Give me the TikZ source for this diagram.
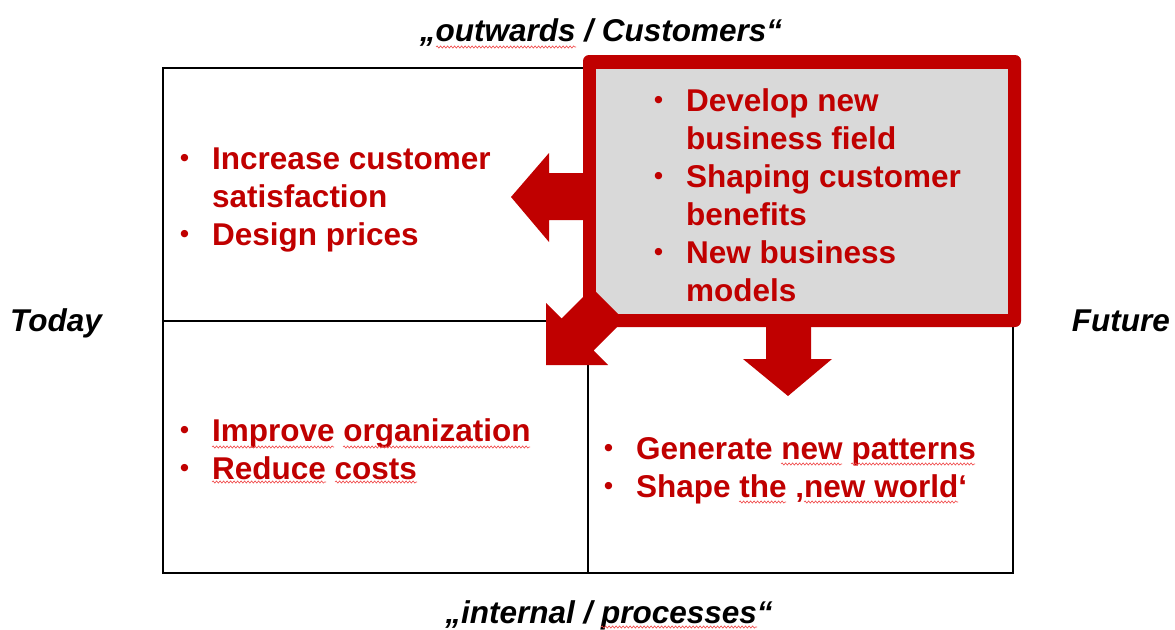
\documentclass[tikz,border=0pt]{standalone}
\usepackage{fontspec}
\setmainfont{Liberation Sans}
\usetikzlibrary{decorations.pathmorphing}
\definecolor{dred}{HTML}{C00000}
\definecolor{boxgray}{HTML}{D9D9D9}
\definecolor{wavy}{HTML}{F04848}
\newcommand\bul{\makebox[32pt][l]{\raisebox{2.5pt}{\fontsize{25.5}{25.5}\selectfont\textbullet}}}
\newcommand\ind{\hspace*{32pt}}
\begin{document}
\begin{tikzpicture}[x=1pt,y=-1pt,
  listtext/.style={anchor=base west, inner sep=0pt, text=dred, font=\fontsize{31.5}{38}\selectfont\bfseries},
  axislabel/.style={inner sep=0pt, font=\fontsize{31.5}{38}\selectfont\bfseries\itshape},
  gridline/.style={line width=1.5pt, draw=black},
  blockarrow/.style={fill=dred, draw=none},
  spell/.style={draw=wavy, line width=0.6pt, decorate, decoration={snake, amplitude=1.1pt, segment length=3.5pt}}]
\useasboundingbox (0,0) rectangle (1175,629);

% grid
\draw[gridline] (163,68) rectangle (1013,573);
\draw[gridline] (163,321) -- (1013,321);
\draw[gridline] (588,68) -- (588,573);

% highlighted box
\fill[dred, rounded corners=6pt] (583,55) rectangle (1021,327);
\fill[boxgray] (596,69) rectangle (1008,314);

% block arrows
\fill[blockarrow] (590,173) -- (549,173) -- (549,153) -- (511,197) -- (549,242) -- (549,220) -- (590,220) -- cycle;
\fill[blockarrow] (766,320) -- (766,359) -- (743,359) -- (788,396) -- (832,359) -- (811,359) -- (811,320) -- cycle;
\fill[blockarrow] (546,365) -- (546,303) -- (561.5,318.5) -- (592,288) -- (624,320) -- (593.5,350.5) -- (608,365) -- cycle;

% axis labels
\node[axislabel, anchor=base] (top) at (601,41) {„outwards / Customers“};
\node[axislabel, anchor=base] (bottom) at (609,623) {„internal / processes“};
\node[axislabel, anchor=base west] (today) at (10,331) {Today};
\node[axislabel, anchor=base east] (future) at (1170,331) {Future};

% lists
\node[listtext] (tl) at (180,169) {\begin{tabular}[t]{@{}l@{}}\bul Increase customer\\ \ind satisfaction\\ \bul Design prices\end{tabular}};
\node[listtext] (tr) at (654,111) {\begin{tabular}[t]{@{}l@{}}\bul Develop new\\ \ind business field\\ \bul Shaping customer\\ \ind benefits\\ \bul New business\\ \ind models\end{tabular}};
\node[listtext] (bl) at (180,441) {\begin{tabular}[t]{@{}l@{}}\bul Improve organization\\ \bul Reduce costs\end{tabular}};
\node[listtext] (br) at (604,459) {\begin{tabular}[t]{@{}l@{}}\bul Generate new patterns\\ \bul Shape the ‚new world‘\end{tabular}};

% spell-check marks
\draw[spell] (436,47) -- (576,47);
\draw[spell] (601,627) -- (757,627);
\draw[spell] (212,447) -- (334,447);
\draw[spell] (343,447) -- (530,447);
\draw[spell] (212,482) -- (326,482);
\draw[spell] (335,482) -- (417,482);
\draw[spell] (781,464) -- (842,464);
\draw[spell] (851,464) -- (975,464);
\draw[spell] (739,502) -- (786,502);
\draw[spell] (804,502) -- (958,502);
\end{tikzpicture}
\end{document}
